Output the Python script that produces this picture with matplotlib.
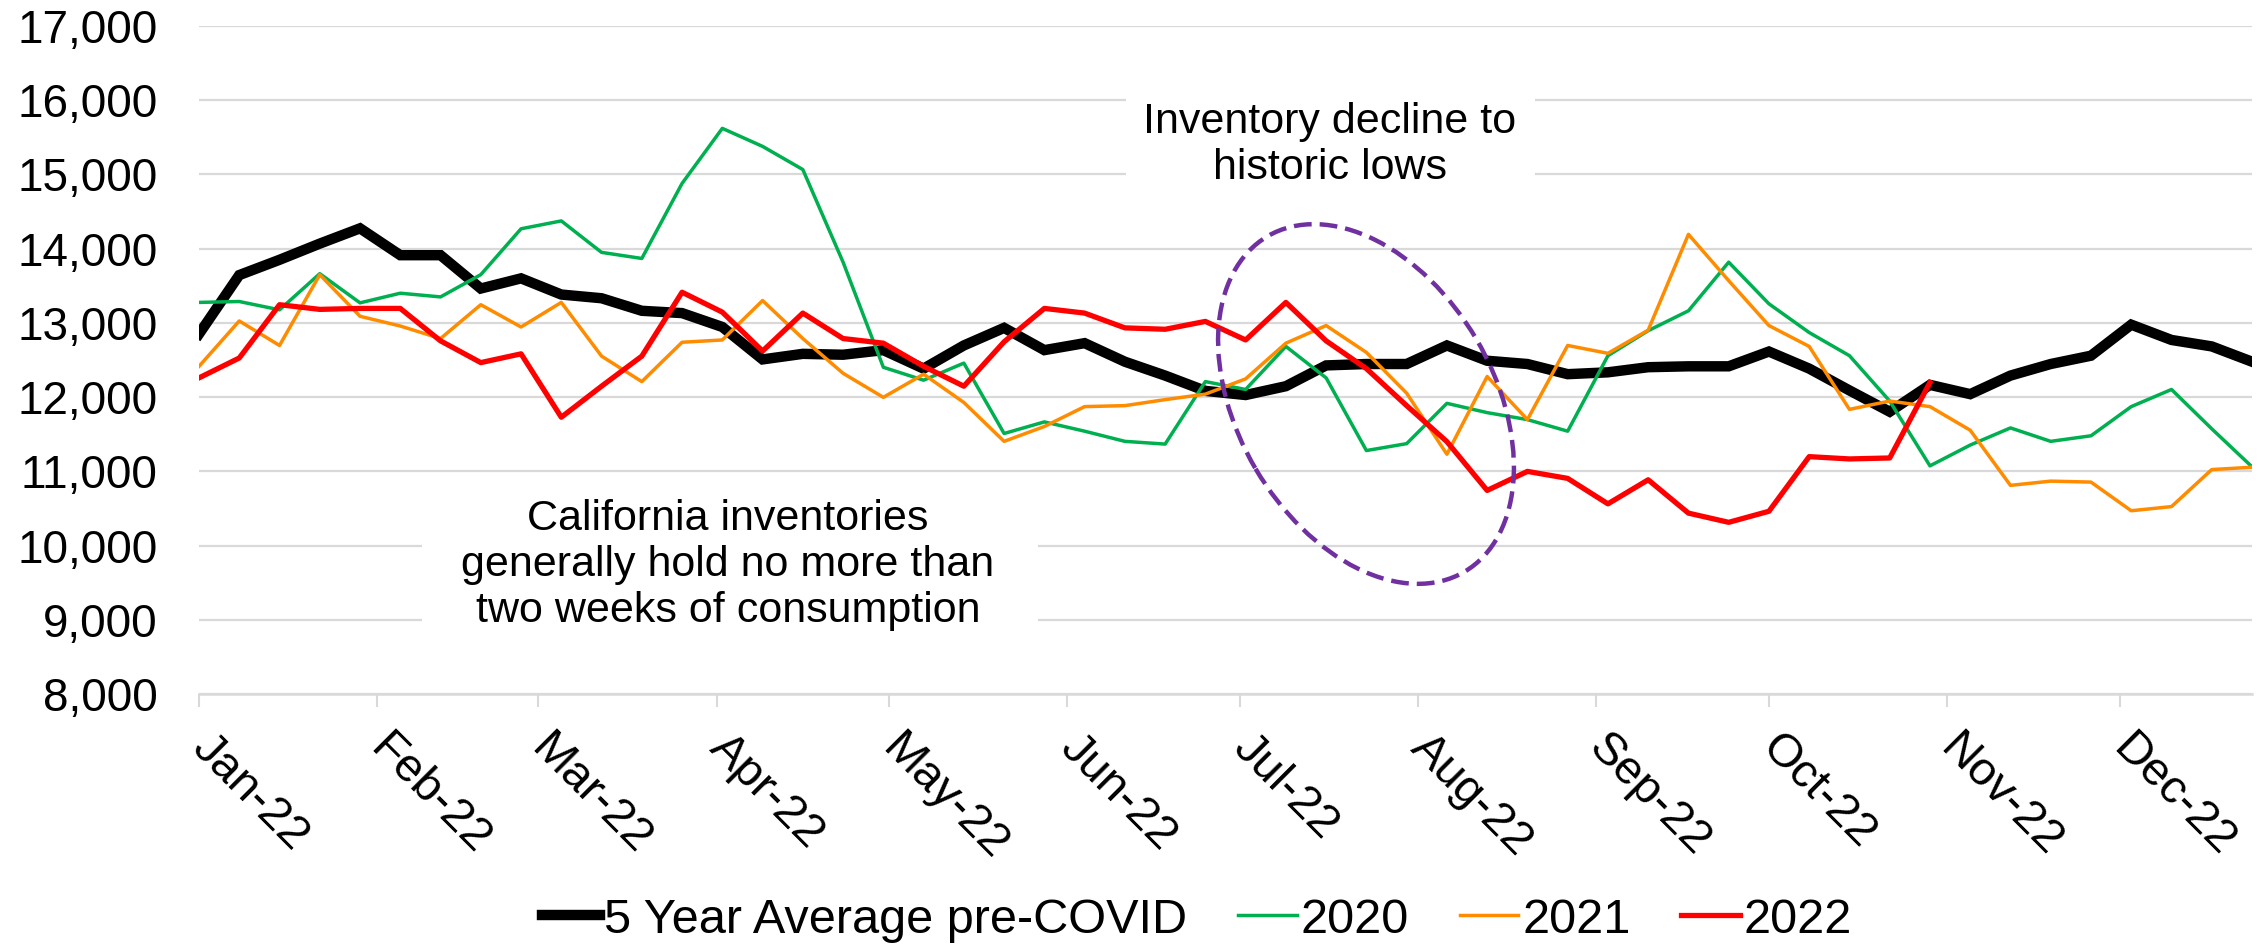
import matplotlib
matplotlib.use("Agg")
import matplotlib.pyplot as plt
import matplotlib.dates as mdates
import matplotlib.transforms as mtransforms
from matplotlib.patches import Ellipse, Rectangle
from matplotlib.ticker import FuncFormatter
import pandas as pd

plt.rcParams['font.family'] = ['Liberation Sans', 'DejaVu Sans']

# ---------------- data ----------------
week_start = "2022-01-01"
n_weeks = 52

avg_5yr = [12850, 13644, 13850, 14068, 14274, 13912, 13912, 13463, 13600, 13382,
           13332, 13163, 13132, 12945, 12508, 12583, 12571, 12633, 12384, 12696,
           12933, 12633, 12727, 12477, 12290, 12084, 12028, 12147, 12427, 12446,
           12446, 12696, 12490, 12446, 12309, 12334, 12403, 12415, 12415, 12614,
           12384, 12090, 11803, 12165, 12040, 12290, 12446, 12558, 12976, 12770,
           12683, 12477]

y2020 = [13276, 13288, 13176, 13663, 13270, 13400, 13350, 13650, 14268, 14374,
         13950, 13868, 14879, 15621, 15378, 15066, 13818, 12402, 12228, 12458,
         11510, 11666, 11541, 11404, 11367, 12209, 12103, 12683, 12259, 11280,
         11373, 11916, 11791, 11697, 11541, 12558, 12895, 13163, 13818, 13257,
         12870, 12558, 11947, 11074, 11354, 11585, 11404, 11479, 11872, 12103,
         11573, 11061]

y2021 = [12415, 13026, 12696, 13650, 13089, 12958, 12789, 13245, 12945, 13276,
         12552, 12209, 12739, 12770, 13301, 12789, 12321, 11997, 12309, 11928,
         11404, 11604, 11872, 11885, 11966, 12040, 12246, 12727, 12964, 12602,
         12053, 11230, 12278, 11697, 12696, 12590, 12902, 14193, 13569, 12964,
         12683, 11835, 11947, 11872, 11554, 10811, 10868, 10855, 10469, 10525,
         11024, 11055]

y2022 = [12259, 12527, 13245, 13182, 13195, 13195, 12758, 12465, 12583, 11729,
         12147, 12552, 13413, 13145, 12621, 13132, 12789, 12727, 12415, 12147,
         12745, 13195, 13132, 12933, 12914, 13020, 12770, 13276, 12758, 12384,
         11885, 11400, 10743, 10999, 10905, 10562, 10886, 10437, 10313, 10462,
         11198, 11167, 11180, 12197]

series_labels = ["5 Year Average pre-COVID", "2020", "2021", "2022"]
y_ticks = list(range(8000, 17001, 1000))
month_ticks = pd.date_range("2022-01-01", "2022-12-01", freq="MS")

annot_top = "Inventory decline to\nhistoric lows"
annot_bottom = "California inventories\ngenerally hold no more than\ntwo weeks of consumption"

# ---------------- figure ----------------
W, H, DPI = 2267, 946, 100
fig = plt.figure(figsize=(W / DPI, H / DPI), dpi=DPI)
L, R, T, B = 199, 2252, 26, 694
ax = fig.add_axes([L / W, 1 - B / H, (R - L) / W, (B - T) / H])

dates = pd.date_range(week_start, periods=n_weeks, freq="7D")

ax.plot(dates, avg_5yr, color="black", lw=7.5, solid_joinstyle="miter", zorder=3, label=series_labels[0])
ax.plot(dates, y2020, color="#00B050", lw=2.5, zorder=3, label=series_labels[1])
ax.plot(dates, y2021, color="#FF8C00", lw=2.5, zorder=3, label=series_labels[2])
ax.plot(dates[:len(y2022)], y2022, color="#FF0000", lw=3.8, zorder=4, label=series_labels[3])

ax.set_ylim(8000, 17000)
ax.set_xlim(dates[0], dates[-1])
ax.set_yticks(y_ticks)
ax.yaxis.set_major_formatter(FuncFormatter(lambda v, p: f"{int(v):,}"))
ax.set_xticks(month_ticks)
ax.xaxis.set_major_formatter(mdates.DateFormatter("%b-%y"))

ax.grid(axis="y", color="#d9d9d9", lw=1.6, zorder=0)
ax.set_axisbelow(True)
for s in ["top", "right", "left"]:
    ax.spines[s].set_visible(False)
ax.spines["bottom"].set_color("#d9d9d9")
ax.spines["bottom"].set_linewidth(1.8)

ax.tick_params(axis="y", length=0, pad=30, labelsize=33, labelcolor="black")
ax.tick_params(axis="x", length=9, width=1.5, color="#d9d9d9", pad=14, labelsize=34, labelcolor="black")
offset = mtransforms.ScaledTranslation(0.15, 0, fig.dpi_scale_trans)
for lbl in ax.get_xticklabels():
    lbl.set_rotation(-45)
    lbl.set_ha("left")
    lbl.set_va("top")
    lbl.set_rotation_mode("anchor")
    lbl.set_transform(lbl.get_transform() + offset)

# white boxes behind annotations (pixel coordinates from top-left)
def px_rect(x0, y0, x1, y1):
    return Rectangle((x0 / DPI, (H - y1) / DPI), (x1 - x0) / DPI, (y1 - y0) / DPI,
                     transform=fig.dpi_scale_trans, facecolor="white", edgecolor="none",
                     zorder=1.5, clip_on=False)

ax.add_patch(px_rect(1126, 62, 1535, 212))
ax.add_patch(px_rect(422, 488, 1038, 662))

fig.text(1330 / W, 1 - 145 / H, annot_top, ha="center", va="center", fontsize=31,
         linespacing=1.2, zorder=6)
fig.text(728 / W, 1 - 565 / H, annot_bottom, ha="center", va="center", fontsize=31,
         linespacing=1.2, zorder=6)

ell = Ellipse((1366 / DPI, (H - 404) / DPI), 3.89, 2.56, angle=-59.6,
              transform=fig.dpi_scale_trans, fill=False, edgecolor="#7030A0",
              lw=3.2, linestyle=(0, (4, 1.8)), zorder=7)
fig.add_artist(ell)

leg = fig.legend(loc="center", bbox_to_anchor=(0.528, 1 - 920 / H), ncol=4, frameon=False,
                 fontsize=35, handlelength=1.2, handletextpad=0.08, columnspacing=1.05,
                 borderaxespad=0)

fig.savefig("out.png", dpi=DPI)
